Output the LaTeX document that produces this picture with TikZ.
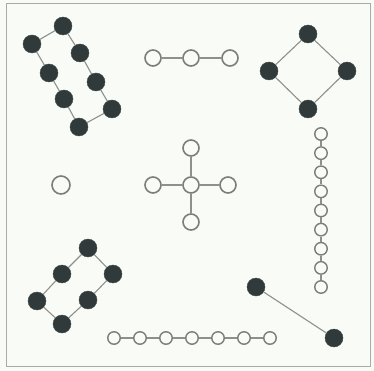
\documentclass[tikz,border=0pt]{standalone}
\definecolor{paper}{HTML}{F8FBF6}
\definecolor{framegray}{HTML}{A8ABA8}
\definecolor{atomdark}{HTML}{313A3A}
\definecolor{ringgray}{HTML}{7C7E7C}
\definecolor{bondgray}{HTML}{8E908E}
\tikzset{
  bond/.style={draw=bondgray, line width=1.1pt},
  dark/.style={circle, fill=atomdark, draw=atomdark!80!gray, inner sep=0pt, minimum size=18pt},
  hollow/.style={circle, draw=ringgray, line width=1.6pt, fill=paper, inner sep=0pt, minimum size=16pt},
  tiny/.style={hollow, line width=1.4pt, minimum size=12.5pt}
}
\begin{document}
\begin{tikzpicture}[x=1pt,y=-1pt]
    % Page and frame
    \fill[paper] (0,0) rectangle (374,371);
    \useasboundingbox (0,0) rectangle (374,371);
    \draw[framegray, line width=0.8pt] (6,3) rectangle (370,366);
    % Eight-ring, top left
    \node[dark] (a1) at (63,26) {};
    \node[dark] (a2) at (80,53) {};
    \node[dark] (a3) at (96,82) {};
    \node[dark] (a4) at (112,109) {};
    \node[dark] (a5) at (79,127) {};
    \node[dark] (a6) at (64,99) {};
    \node[dark] (a7) at (49,73) {};
    \node[dark] (a8) at (32,44) {};
    \draw[bond] (a1) -- (a2) -- (a3) -- (a4) -- (a5) -- (a6) -- (a7) -- (a8) -- (a1);
    % Three-chain, top
    \foreach \i/\x in {1/153,2/191,3/230}
        \node[hollow] (b\i) at (\x,58) {};
    \draw[bond] (b1) -- (b2) -- (b3);
    % Four-ring, top right
    \node[dark] (d1) at (308,34) {};
    \node[dark] (d2) at (347,71) {};
    \node[dark] (d3) at (308,109) {};
    \node[dark] (d4) at (269,71) {};
    \draw[bond] (d1) -- (d2) -- (d3) -- (d4) -- (d1);
    % Nine-chain, right
    \foreach \i in {1,...,9}
        \node[tiny] (v\i) at (321,{134+19.125*(\i-1)}) {};
    \foreach \i [count=\j from 2] in {1,...,8}
        \draw[bond] (v\i) -- (v\j);
    % Cross, centre
    \node[hollow] (c0) at (191,185) {};
    \node[hollow] (cn) at (191,148) {};
    \node[hollow] (cw) at (153,185) {};
    \node[hollow] (ce) at (228,185) {};
    \node[hollow] (cs) at (191,222) {};
    \foreach \t in {cn,cw,ce,cs}
        \draw[bond] (c0) -- (\t);
    % Single atom, left
    \node[hollow, minimum size=18pt] (s) at (61,185) {};
    % Six-ring, bottom left
    \node[dark] (h1) at (88,248) {};
    \node[dark] (h2) at (113,274) {};
    \node[dark] (h3) at (88,300) {};
    \node[dark] (h4) at (62,324) {};
    \node[dark] (h5) at (37,301) {};
    \node[dark] (h6) at (62,274) {};
    \draw[bond] (h1) -- (h2) -- (h3) -- (h4) -- (h5) -- (h6) -- (h1);
    % Seven-chain, bottom
    \foreach \i in {1,...,7}
        \node[tiny] (w\i) at ({114+26*(\i-1)},338) {};
    \foreach \i [count=\j from 2] in {1,...,6}
        \draw[bond] (w\i) -- (w\j);
    % Pair, bottom right
    \node[dark] (p1) at (256,287) {};
    \node[dark] (p2) at (334,338) {};
    \draw[bond] (p1) -- (p2);
\end{tikzpicture}
\end{document}
